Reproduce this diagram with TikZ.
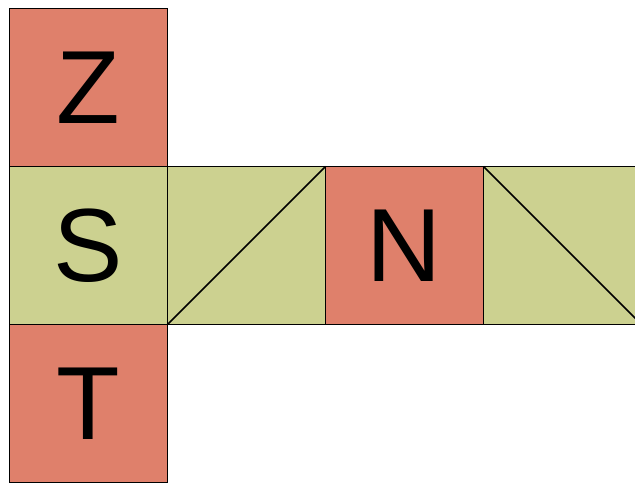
\documentclass[tikz,border=0pt]{standalone}
\usepackage{fontspec}
\setmainfont{Liberation Sans}
\usetikzlibrary{positioning}

\definecolor{tilered}{HTML}{DF806B}
\definecolor{tilegreen}{HTML}{CCD190}

\begin{document}
\begin{tikzpicture}[
  x=0.75pt, y=-0.75pt,
  tile/.style={rectangle, draw=black, line width=1.2pt, minimum size=118.5pt,
    inner sep=0pt, outer sep=0pt, font=\fontsize{78}{78}\selectfont},
  redtile/.style={tile, fill=tilered},
  greentile/.style={tile, fill=tilegreen},
  node distance=0pt
]
  \useasboundingbox[fill=white] (0,0) rectangle (635,482);
  \clip (0,0) rectangle (635,482);

  % Column
  \node[greentile] (s) at (88.5,245.5) {S};
  \node[redtile, above=of s] (z) {Z};
  \node[redtile, below=of s] (t) {T};

  % Row
  \node[greentile, right=of s] (d1) {};
  \node[redtile, right=of d1] (n) {N};
  \node[greentile, right=of n] (d2) {};

  \draw[line width=1.2pt] (d1.south west) -- (d1.north east);
  \draw[line width=1.2pt] (d2.north west) -- (d2.south east);
\end{tikzpicture}
\end{document}
